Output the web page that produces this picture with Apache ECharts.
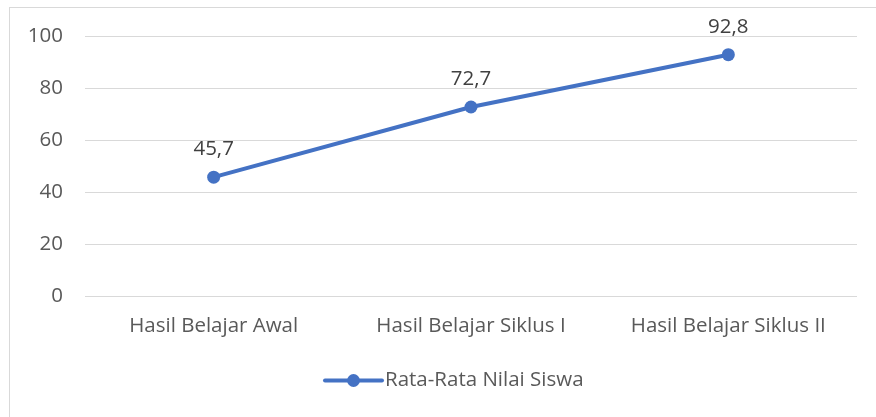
<!DOCTYPE html>
<html><head><meta charset="utf-8">
<script src="https://cdn.jsdelivr.net/npm/echarts@6/dist/echarts.min.js"></script>
<style>
html,body{margin:0;padding:0;background:#fff;}
#frame{position:absolute;left:9px;top:7px;width:880px;height:420px;border:1px solid #d9d9d9;box-sizing:border-box;}
#c{position:absolute;left:0;top:0;width:876px;height:417px;}
</style></head>
<body>
<div id="frame"></div>
<div id="c"></div>
<script>
const categories = ['Hasil Belajar Awal', 'Hasil Belajar Siklus I', 'Hasil Belajar Siklus II'];
const values = [45.7, 72.7, 92.8];
const seriesName = 'Rata-Rata Nilai Siswa';
const yTicks = {min: 0, max: 100, interval: 20};

const font = "'Open Sans', 'Noto Sans', sans-serif";
const fs = 20.5;
const chart = echarts.init(document.getElementById('c'));
chart.setOption({
  animation: false,
  textStyle: {fontFamily: font},
  grid: {left: 85, right: 19, top: 36, bottom: 121},
  legend: {
    bottom: 21, left: 318,
    itemWidth: 57, itemHeight: 16, itemGap: 4,
    lineStyle: {width: 4, cap: 'round'},
    textStyle: {fontFamily: font, fontSize: fs, color: '#595959', padding: [0, 0, 0, -2]},
    data: [seriesName]
  },
  xAxis: {
    type: 'category', data: categories, boundaryGap: true,
    axisLine: {show: false}, axisTick: {show: false},
    axisLabel: {fontFamily: font, fontSize: fs, color: '#595959', margin: 20}
  },
  yAxis: {
    type: 'value', min: yTicks.min, max: yTicks.max, interval: yTicks.interval,
    axisLine: {show: false}, axisTick: {show: false},
    axisLabel: {fontFamily: font, fontSize: fs, color: '#595959', margin: 22},
    splitLine: {lineStyle: {color: '#d9d9d9', width: 1}}
  },
  series: [{
    name: seriesName, type: 'line', data: values,
    symbol: 'circle', symbolSize: 13,
    lineStyle: {color: '#4472C4', width: 4, cap: 'round'},
    itemStyle: {color: '#4472C4'},
    label: {
      show: true, position: 'top', distance: 11,
      fontFamily: font, fontSize: fs, color: '#404040',
      formatter: p => String(p.value).replace('.', ',')
    }
  }]
});
</script>
</body></html>
